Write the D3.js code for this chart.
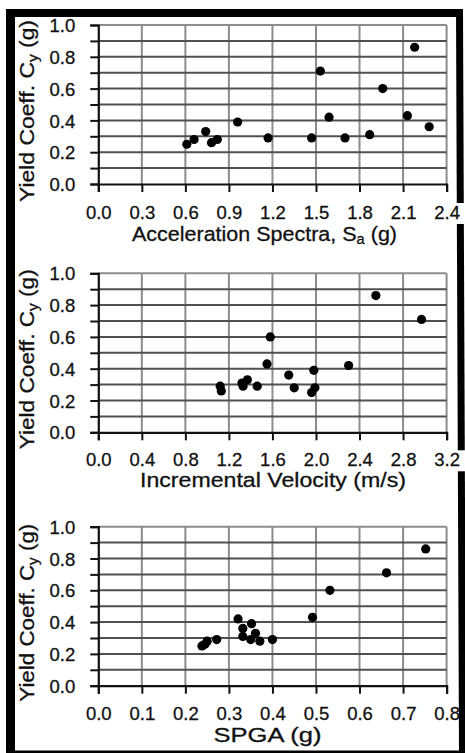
<!DOCTYPE html>
<html>
<head>
<meta charset="utf-8">
<script src="https://cdn.jsdelivr.net/npm/d3@7"></script>
<style>
  html, body { margin: 0; padding: 0; background: #fff; }
  svg { display: block; }
  text { font-family: "Liberation Sans", Arial, sans-serif; fill: #111; }
</style>
</head>
<body>
<svg id="chart" width="465" height="753"></svg>
<script>
// Shared y axis: yield coefficient Cy (g)
const yMajorTicks = [0.0, 0.2, 0.4, 0.6, 0.8, 1.0];
const yMajorLabels = ["0.0", "0.2", "0.4", "0.6", "0.8", "1.0"];
const yMinorTicks = [0.1, 0.3, 0.5, 0.7, 0.9];

// Panel 1: acceleration spectra Sa (g)
const saTicks = [0.0, 0.3, 0.6, 0.9, 1.2, 1.5, 1.8, 2.1, 2.4];
const saTickLabels = ["0.0", "0.3", "0.6", "0.9", "1.2", "1.5", "1.8", "2.1", "2.4"];
const saX = [0.61, 0.66, 0.74, 0.78, 0.82, 0.96, 1.17, 1.47, 1.53, 1.59, 1.70, 1.87, 1.96, 2.13, 2.18, 2.28];
const saY = [0.25, 0.28, 0.33, 0.26, 0.28, 0.39, 0.29, 0.29, 0.71, 0.42, 0.29, 0.31, 0.60, 0.43, 0.86, 0.36];

// Panel 2: incremental velocity (m/s)
const velTicks = [0.0, 0.4, 0.8, 1.2, 1.6, 2.0, 2.4, 2.8, 3.2];
const velTickLabels = ["0.0", "0.4", "0.8", "1.2", "1.6", "2.0", "2.4", "2.8", "3.2"];
const velX = [1.12, 1.13, 1.32, 1.33, 1.37, 1.46, 1.55, 1.58, 1.75, 1.80, 1.98, 1.96, 1.99, 2.30, 2.55, 2.97];
const velY = [0.29, 0.26, 0.31, 0.29, 0.33, 0.29, 0.43, 0.60, 0.36, 0.28, 0.39, 0.25, 0.28, 0.42, 0.86, 0.71];

// Panel 3: SPGA (g)
const spgaTicks = [0.0, 0.1, 0.2, 0.3, 0.4, 0.5, 0.6, 0.7, 0.8];
const spgaTickLabels = ["0.0", "0.1", "0.2", "0.3", "0.4", "0.5", "0.6", "0.7", "0.8"];
const spgaX = [0.238, 0.245, 0.250, 0.272, 0.321, 0.332, 0.332, 0.352, 0.350, 0.361, 0.371, 0.400, 0.492, 0.532, 0.662, 0.752];
const spgaY = [0.25, 0.26, 0.28, 0.29, 0.42, 0.36, 0.31, 0.39, 0.29, 0.33, 0.28, 0.29, 0.43, 0.60, 0.71, 0.86];

const yTitle = [["Yield Coeff. C", null], ["y", "sub"], [" (g)", null]];

// Layout of each panel (plot top, label baselines, title box)
const panels = [
  { top: 25, ticks: saTicks, labels: saTickLabels, xs: saX, ys: saY,
    tickBase: 35, titleBase: 57, titleCx: 264.5, titleLen: 265, yTitleLen: 182, maskEnd: true,
    title: [["Acceleration Spectra, S", null], ["a", "sub"], [" (g)", null]] },
  { top: 273.3, ticks: velTicks, labels: velTickLabels, xs: velX, ys: velY,
    tickBase: 34, titleBase: 55, titleCx: 273, titleLen: 266, yTitleLen: 180, maskEnd: true,
    title: [["Incremental Velocity (m/s)", null]] },
  { top: 526.7, ticks: spgaTicks, labels: spgaTickLabels, xs: spgaX, ys: spgaY,
    tickBase: 34.5, titleBase: 56.5, titleCx: 267.5, titleLen: 108, yTitleLen: 178, maskEnd: false,
    title: [["SPGA (g)", null]] }
];

const svg = d3.select("#chart");
const plotLeft = 98.3, plotRight = 446.6, plotH = 159;

// Frame around the figure
const frame = svg.append("g").attr("fill", "#000");
frame.append("rect").attr("x", 6).attr("y", 9).attr("width", 457).attr("height", 8);
frame.append("rect").attr("x", 6).attr("y", 9).attr("width", 9).attr("height", 744);
frame.append("path").attr("d", "M456,9 L463,9 L466,753 L459,753 Z");
frame.append("rect").attr("x", 6).attr("y", 750.5).attr("width", 460).attr("height", 3);

function richText(sel, parts) {
  parts.forEach(([txt, kind], i) => {
    const t = sel.append("tspan").text(txt);
    if (kind === "sub") t.attr("font-size", "0.68em").attr("dy", "0.25em");
    else if (i > 0 && parts[i - 1][1] === "sub") t.attr("dy", "-0.17em");
  });
}

panels.forEach(p => {
  const x = d3.scaleLinear().domain([p.ticks[0], p.ticks[p.ticks.length - 1]]).range([plotLeft, plotRight]);
  const y = d3.scaleLinear().domain([0, 1]).range([p.top + plotH, p.top]);
  const g = svg.append("g");

  // the last x label sits on a white patch over the frame
  if (p.maskEnd) {
    g.append("rect").attr("x", 428).attr("y", y(0) + p.tickBase - 16)
      .attr("width", 40).attr("height", 21).attr("fill", "#fff");
  }

  // vertical grid lines
  g.append("g").selectAll("line").data(p.ticks.slice(1)).join("line")
    .attr("x1", d => x(d)).attr("x2", d => x(d))
    .attr("y1", y(0)).attr("y2", y(1))
    .attr("stroke", "#8c8c8c").attr("stroke-width", 2);

  // horizontal grid lines at every 0.1
  const allY = yMajorTicks.concat(yMinorTicks).filter(v => v > 0);
  g.append("g").selectAll("line").data(allY).join("line")
    .attr("x1", plotLeft).attr("x2", plotRight)
    .attr("y1", d => y(d)).attr("y2", d => y(d))
    .attr("stroke", d => d === 1 ? "#8c8c8c" : "#505050").attr("stroke-width", 2);

  // y axis with outward ticks at every 0.1
  const yAxis = d3.axisLeft(y).tickValues(yMajorTicks.concat(yMinorTicks).sort())
    .tickSize(8).tickPadding(6)
    .tickFormat(d => {
      const i = yMajorTicks.findIndex(v => Math.abs(v - d) < 1e-9);
      return i >= 0 ? yMajorLabels[i] : "";
    });
  const ya = g.append("g").attr("transform", `translate(${plotLeft},0)`).call(yAxis);
  ya.select(".domain").attr("stroke", "#111").attr("stroke-width", 2.2);
  ya.selectAll(".tick line").attr("stroke", "#111").attr("stroke-width", 2);
  ya.selectAll(".tick text").attr("font-size", 18.5).attr("font-family", "Liberation Sans, Arial, sans-serif")
    .attr("fill", "#111").attr("stroke", "#111").attr("stroke-width", 0.3)
    .attr("x", -23).attr("dy", "0.36em");

  // x axis
  const xAxis = d3.axisBottom(x).tickValues(p.ticks).tickSize(8).tickPadding(0)
    .tickFormat((d, i) => p.labels[i]);
  const xa = g.append("g").attr("transform", `translate(0,${y(0)})`).call(xAxis);
  xa.select(".domain").attr("stroke", "#111").attr("stroke-width", 2.2);
  xa.selectAll(".tick line").attr("stroke", "#111").attr("stroke-width", 2);
  xa.selectAll(".tick text").attr("font-size", 18.5).attr("font-family", "Liberation Sans, Arial, sans-serif")
    .attr("fill", "#111").attr("stroke", "#111").attr("stroke-width", 0.3)
    .attr("y", p.tickBase).attr("dy", 0);

  // x axis title
  const xt = g.append("text").attr("x", p.titleCx).attr("y", y(0) + p.titleBase)
    .attr("text-anchor", "middle").attr("font-size", 20.5)
    .attr("stroke", "#111").attr("stroke-width", 0.3)
    .attr("textLength", p.titleLen).attr("lengthAdjust", "spacingAndGlyphs");
  richText(xt, p.title);

  // y axis title
  const yt = g.append("text")
    .attr("transform", `translate(34,${p.top + plotH / 2 + 6.5}) rotate(-90)`)
    .attr("text-anchor", "middle").attr("font-size", 20.5)
    .attr("stroke", "#111").attr("stroke-width", 0.3)
    .attr("textLength", p.yTitleLen).attr("lengthAdjust", "spacingAndGlyphs");
  richText(yt, yTitle);

  // data points
  g.append("g").selectAll("circle").data(p.xs.map((v, i) => [v, p.ys[i]])).join("circle")
    .attr("cx", d => x(d[0])).attr("cy", d => y(d[1])).attr("r", 4.6).attr("fill", "#000");
});
</script>
</body>
</html>
